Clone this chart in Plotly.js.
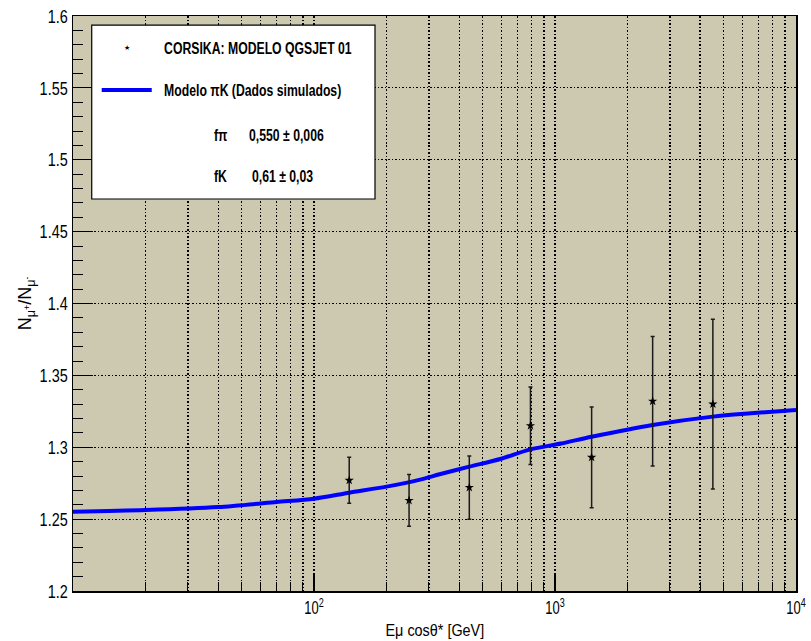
<!DOCTYPE html>
<html>
<head>
<meta charset="utf-8">
<script src="https://cdn.plot.ly/plotly-3.0.1.min.js"></script>
<style>html,body{margin:0;padding:0;background:#fff;}#chart{width:811px;height:641px;}</style>
</head>
<body>
<div id="chart"></div>
<script>
// CORSIKA (QGSJET 01) simulated points
var dataEnergy = [140, 248, 441, 791, 1419, 2542, 4519];
var dataRatio  = [1.277, 1.263, 1.272, 1.315, 1.293, 1.332, 1.330];
var dataError  = [0.016, 0.018, 0.022, 0.027, 0.035, 0.045, 0.059];

// piK model curve
var modelEnergy = [10, 20, 40, 70, 100, 140, 200, 276, 332, 441, 593, 791, 1060, 1419, 2542, 4519, 6490, 10000];
var modelRatio  = [1.2551, 1.2563, 1.2584, 1.2619, 1.2642, 1.2684, 1.2726, 1.2775, 1.2812, 1.2865, 1.2918, 1.2985, 1.3026, 1.3073, 1.3155, 1.3213, 1.3236, 1.3259];

// axis ticks
var xMajorTicks = [100, 1000, 10000];
var xMajorLabels = ['10<sup>2</sup>', '10<sup>3</sup>', '10<sup>4</sup>'];
var xMinorTicks = [20, 30, 40, 50, 60, 70, 80, 90, 200, 300, 400, 500, 600, 700, 800, 900, 2000, 3000, 4000, 5000, 6000, 7000, 8000, 9000];

// legend texts
var legendData = 'CORSIKA: MODELO QGSJET 01';
var legendModel = 'Modelo \u03c0K (Dados simulados)';
var fpiLabel = 'f\u03c0', fpiValue = '0,550 \u00b1 0,006';
var fkLabel = 'fK', fkValue = '0,61 \u00b1 0,03';

var FONT = 'Liberation Sans, Arial, sans-serif';
var DOT = '1.5px,2px';

var traces = [
  {
    x: modelEnergy, y: modelRatio, type: 'scatter', mode: 'lines',
    name: legendModel,
    line: {color: '#0000ff', width: 4, shape: 'spline', smoothing: 0.8}
  },
  {
    x: dataEnergy, y: dataRatio, type: 'scatter', mode: 'markers',
    name: legendData,
    marker: {symbol: 'star', size: 7, color: '#000'},
    error_y: {type: 'data', array: dataError, visible: true, color: '#1a1a1a', thickness: 1.5, width: 2}
  }
];

var annFont = {family: FONT, size: 17, color: '#000', weight: 'bold'};
var layout = {
  width: 811, height: 641,
  margin: {l: 73, r: 15, t: 16, b: 50},
  paper_bgcolor: '#ffffff',
  plot_bgcolor: '#cdc8b0',
  showlegend: false,
  xaxis: {
    type: 'log', range: [1, 4],
    tickmode: 'array', tickvals: xMajorTicks, ticktext: xMajorLabels,
    ticks: 'inside', ticklen: 18, tickwidth: 1.2, tickcolor: '#000',
    showgrid: true, gridcolor: '#000', gridwidth: 1.2, griddash: DOT,
    minor: {tickmode: 'array', tickvals: xMinorTicks, ticks: 'inside', ticklen: 9, tickwidth: 1, tickcolor: '#000',
            showgrid: true, gridcolor: '#000', gridwidth: 1.2, griddash: DOT},
    showline: true, linecolor: '#000', linewidth: 1.5, mirror: true,
    zeroline: false,
    tickfont: {family: FONT, size: 18, color: '#000'}
  },
  yaxis: {
    range: [1.2, 1.6], dtick: 0.05, tick0: 1.2,
    ticks: 'inside', ticklen: 20, tickwidth: 1.2, tickcolor: '#000',
    showgrid: true, gridcolor: '#000', gridwidth: 1.2, griddash: DOT,
    minor: {dtick: 0.01, ticks: 'inside', ticklen: 10, tickwidth: 1, tickcolor: '#000', showgrid: false},
    showline: true, linecolor: '#000', linewidth: 1.5, mirror: true,
    zeroline: false,
    tickfont: {family: FONT, size: 19, color: '#000'}
  },
  shapes: [
    {type: 'rect', xref: 'paper', yref: 'paper', x0: 0.0259, x1: 0.4177, y0: 0.6817, y1: 0.9843,
     fillcolor: '#ffffff', line: {color: '#000', width: 1.2}, layer: 'above'},
    {type: 'line', xref: 'paper', yref: 'paper', x0: 0.0397, x1: 0.1089, y0: 0.8713, y1: 0.8713,
     line: {color: '#0000ff', width: 4}, layer: 'above'}
  ],
  annotations: [
    {xref: 'paper', yref: 'paper', x: 0.0747, y: 0.9443, text: '\u2605', showarrow: false,
     xanchor: 'center', yanchor: 'middle', font: {family: 'DejaVu Sans', size: 7, color: '#000'}},
    {xref: 'paper', yref: 'paper', x: 0.1231, y: 0.9443, text: legendData, showarrow: false,
     xanchor: 'left', yanchor: 'middle', font: annFont},
    {xref: 'paper', yref: 'paper', x: 0.1231, y: 0.8713, text: legendModel, showarrow: false,
     xanchor: 'left', yanchor: 'middle', font: annFont},
    {xref: 'paper', yref: 'paper', x: 0.1918, y: 0.7930, text: fpiLabel, showarrow: false,
     xanchor: 'left', yanchor: 'middle', font: annFont},
    {xref: 'paper', yref: 'paper', x: 0.2402, y: 0.7930, text: fpiValue, showarrow: false,
     xanchor: 'left', yanchor: 'middle', font: annFont},
    {xref: 'paper', yref: 'paper', x: 0.1918, y: 0.7205, text: fkLabel, showarrow: false,
     xanchor: 'left', yanchor: 'middle', font: annFont},
    {xref: 'paper', yref: 'paper', x: 0.2448, y: 0.7205, text: fkValue, showarrow: false,
     xanchor: 'left', yanchor: 'middle', font: annFont},
    {xref: 'paper', yref: 'paper', x: 0.5, y: -0.068, text: 'E\u03bc cos\u03b8* [GeV]', showarrow: false,
     xanchor: 'center', yanchor: 'middle', font: {family: FONT, size: 16, color: '#000'}},
    {xref: 'paper', yref: 'paper', x: -0.064, y: 0.5, text: 'N<sub>\u03bc<sup>+</sup></sub>/N<sub>\u03bc<sup>-</sup></sub>',
     textangle: -90, showarrow: false, xanchor: 'center', yanchor: 'middle',
     font: {family: FONT, size: 18, color: '#000'}}
  ]
};

// narrow the text horizontally (the reference uses a condensed face)
function squeeze(nodes, s, forceAnchor) {
  nodes.forEach(function (t) {
    var bb = t.getBBox();
    var anchor = forceAnchor || t.getAttribute('text-anchor') || 'start';
    var ax = anchor === 'end' ? bb.x + bb.width : (anchor === 'middle' ? bb.x + bb.width / 2 : bb.x);
    var orig = t.getAttribute('transform') || '';
    t.setAttribute('transform', orig + ' translate(' + ax + ',0) scale(' + s + ',1) translate(' + (-ax) + ',0)');
  });
}

Plotly.newPlot('chart', traces, layout, {staticPlot: true, displayModeBar: false}).then(function (gd) {
  var q = function (sel) { return Array.prototype.slice.call(gd.querySelectorAll(sel)); };
  squeeze(q('.ytick text'), 0.76);
  squeeze(q('.xtick text'), 0.72);
  var ann = q('.annotation-text');
  squeeze(ann.slice(1, 7), 0.72, 'start');
  squeeze(ann.slice(7, 8), 0.9, 'middle');
});
</script>
</body>
</html>
